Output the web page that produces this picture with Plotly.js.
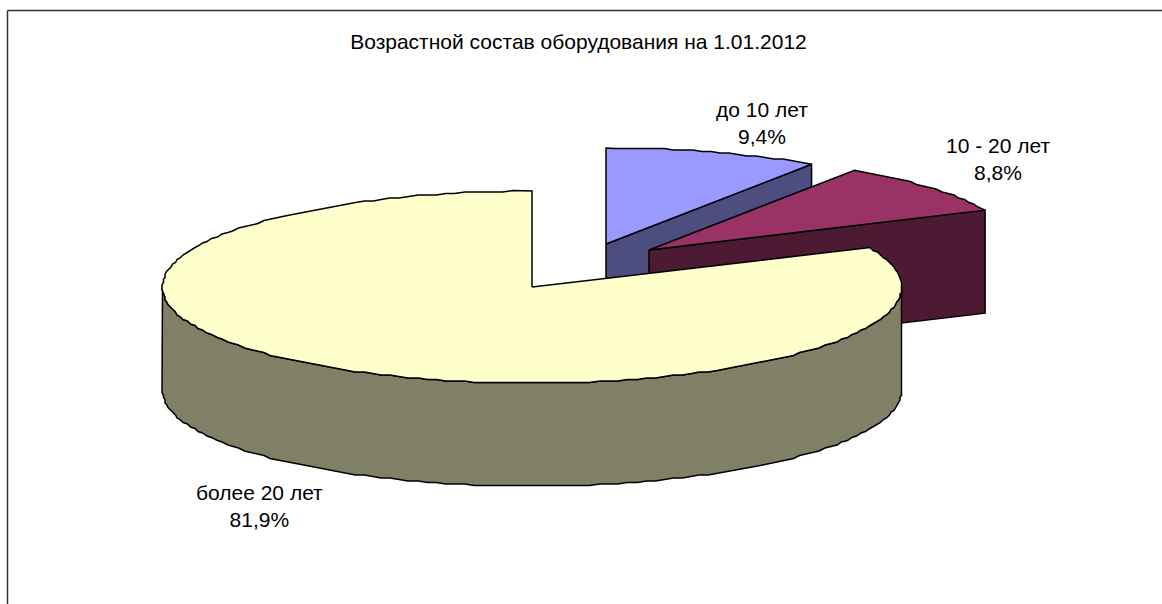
<!DOCTYPE html>
<html>
<head>
<meta charset="utf-8">
<script src="https://cdn.plot.ly/plotly-3.0.1.min.js"></script>
<style>html,body{margin:0;padding:0;background:#fff}#c{width:1162px;height:604px}</style>
</head>
<body>
<div id="c"></div>
<script>
// Data
var chartTitle = 'Возрастной состав оборудования на 1.01.2012';
var categories = ['до 10 лет', '10 - 20 лет', 'более 20 лет'];
var shares = [9.4, 8.8, 81.9];
var shareLabels = ['9,4%', '8,8%', '81,9%'];

// Projection of the tilted pie onto the page
var centre = {x: 532, y: 287};
var radius = {x: 369.5, y: 96};
var depth = 103;
var explode = [[74, -43], [117, -37], [0, 0]];
var topColors = ['#9999FF', '#993366', '#FFFFCC'];
var sideColors = ['#4D4D80', '#4D1A33', '#808066'];
var labelAt = [[762, 123], [998, 159], [259, 506]];
var rimGrid = 1.5; // the reference rim is drawn on a coarse device grid
var rimStep = 1.5;

var total = shares.reduce(function (a, b) { return a + b; }, 0);
var cumulative = [];
shares.reduce(function (a, b, i) { cumulative[i] = [a, a + b]; return a + b; }, 0);

function rim(i, deg, drop) {
  var t = deg * Math.PI / 180;
  return [centre.x + explode[i][0] + radius.x * Math.sin(t),
          centre.y + explode[i][1] - radius.y * Math.cos(t) + (drop || 0)];
}
function poly(points, color, name) {
  return {
    type: 'scatter', mode: 'lines', name: name, hoverinfo: 'skip',
    x: points.map(function (p) { return p[0]; }),
    y: points.map(function (p) { return p[1]; }),
    fill: 'toself', fillcolor: color,
    line: {color: '#000', width: 1.5}
  };
}
function snap(v) { return Math.round(v / rimGrid) * rimGrid; }
function arc(i, from, to, drop) {
  var pts = [rim(i, from, drop)];
  var d = (Math.floor(from / rimStep) + 1) * rimStep;
  for (; d < to; d += rimStep) {
    var p = rim(i, d, 0);
    pts.push([snap(p[0]), snap(p[1]) + (drop || 0)]);
  }
  pts.push(rim(i, to, drop));
  return pts;
}

var traces = [];
categories.forEach(function (name, i) {
  var a0 = cumulative[i][0] / total * 360, a1 = cumulative[i][1] / total * 360;
  var apex = [centre.x + explode[i][0], centre.y + explode[i][1]];
  if (a1 < 90) {
    var e0 = rim(i, a1), e1 = rim(i, a1, depth);
    traces.push(poly([apex, e0, e1, [apex[0], apex[1] + depth], apex], sideColors[i], name + ' side'));
  }
  var w0 = Math.max(a0, 90), w1 = Math.min(a1, 270);
  if (w1 > w0) {
    var wall = arc(i, w0, w1, 0).concat(arc(i, w0, w1, depth).reverse());
    wall.push(wall[0]);
    traces.push(poly(wall, sideColors[i], name + ' wall'));
  }
  var top = [apex].concat(arc(i, a0, a1, 0));
  top.push(apex);
  traces.push(poly(top, topColors[i], name));
});

var annotations = categories.map(function (name, i) {
  return {
    xref: 'x', yref: 'y', x: labelAt[i][0], y: labelAt[i][1],
    text: name + '<br>' + shareLabels[i], showarrow: false,
    xanchor: 'center', yanchor: 'middle', align: 'center',
    font: {family: 'Liberation Sans, Arial, sans-serif', size: 21, color: '#000'}
  };
});

var layout = {
  width: 1162, height: 604,
  margin: {l: 0, r: 0, t: 0, b: 0},
  paper_bgcolor: '#fff', plot_bgcolor: '#fff',
  showlegend: false,
  title: {
    text: chartTitle, x: 578.5 / 1162, xanchor: 'center', y: 1 - 42 / 604, yanchor: 'middle',
    font: {family: 'Liberation Sans, Arial, sans-serif', size: 21, color: '#000'}
  },
  xaxis: {range: [0, 1162], visible: false, fixedrange: true},
  yaxis: {range: [604, 0], visible: false, fixedrange: true},
  annotations: annotations,
  shapes: [
    {type: 'line', xref: 'x', yref: 'y', x0: 7.5, y0: 10.5, x1: 1162, y1: 10.5, line: {color: '#333', width: 1.5}},
    {type: 'line', xref: 'x', yref: 'y', x0: 7.5, y0: 10.5, x1: 7.5, y1: 604, line: {color: '#333', width: 1.5}}
  ]
};
Plotly.newPlot('c', traces, layout, {displayModeBar: false, staticPlot: true});
</script>
</body>
</html>
